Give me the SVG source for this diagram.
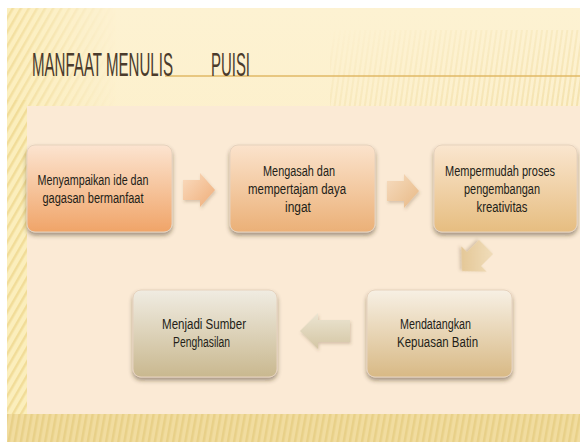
<svg xmlns="http://www.w3.org/2000/svg" width="580" height="442" viewBox="0 0 580 442">
<defs>
<style>
.t{font-family:"Liberation Sans",Arial,sans-serif;font-size:15px;fill:#231e18;text-anchor:middle}
.title{font-family:"Liberation Sans",Arial,sans-serif;font-size:33px;fill:#4a3b2c}
.box{stroke:#e6d2bd;stroke-width:1;filter:url(#sh)}
.arr{filter:url(#ash)}
</style>
<filter id="sh" x="-10%" y="-10%" width="120%" height="130%"><feDropShadow dx="0" dy="3" stdDeviation="2" flood-color="#3a2a1a" flood-opacity="0.45"/></filter>
<filter id="ash" x="-20%" y="-20%" width="140%" height="150%"><feDropShadow dx="1" dy="2" stdDeviation="1.5" flood-color="#6a5030" flood-opacity="0.25"/></filter>
<linearGradient id="bg" x1="0" y1="0" x2="0" y2="1"><stop offset="0" stop-color="#fdf2d2"/><stop offset="1" stop-color="#fbebbd"/></linearGradient>
<linearGradient id="g1" x1="0" y1="0" x2="0" y2="1"><stop offset="0" stop-color="#fce4d0"/><stop offset="1" stop-color="#f0a468"/></linearGradient>
<linearGradient id="g2" x1="0" y1="0" x2="0" y2="1"><stop offset="0" stop-color="#fbe3cc"/><stop offset="1" stop-color="#ebb077"/></linearGradient>
<linearGradient id="g3" x1="0" y1="0" x2="0" y2="1"><stop offset="0" stop-color="#fae6cf"/><stop offset="1" stop-color="#e6bd80"/></linearGradient>
<linearGradient id="g4" x1="0" y1="0" x2="0" y2="1"><stop offset="0" stop-color="#f7f0e4"/><stop offset="1" stop-color="#d8b985"/></linearGradient>
<linearGradient id="g5" x1="0" y1="0" x2="0" y2="1"><stop offset="0" stop-color="#f0ece2"/><stop offset="1" stop-color="#c9b88f"/></linearGradient>
<linearGradient id="a1" x1="0" y1="0" x2="1" y2="1"><stop offset="0" stop-color="#fadcc0"/><stop offset="1" stop-color="#efad78"/></linearGradient>
<linearGradient id="a2" x1="0" y1="0" x2="1" y2="1"><stop offset="0" stop-color="#f6dcc0"/><stop offset="1" stop-color="#e8b985"/></linearGradient>
<linearGradient id="a3" x1="0" y1="0" x2="1" y2="1"><stop offset="0" stop-color="#f2e0c0"/><stop offset="1" stop-color="#e0c08a"/></linearGradient>
<linearGradient id="a4" x1="0" y1="0" x2="0" y2="1"><stop offset="0" stop-color="#ece5d2"/><stop offset="1" stop-color="#d4c6a4"/></linearGradient>
<pattern id="diag" width="7" height="7" patternUnits="userSpaceOnUse" patternTransform="rotate(30)"><rect width="7" height="7" fill="#fbeebc"/><rect width="2.5" height="7" fill="#f1dc98"/></pattern>
<pattern id="vert" width="5" height="5" patternUnits="userSpaceOnUse" patternTransform="rotate(8)"><rect width="2" height="5" fill="#edd694"/></pattern>
<pattern id="bot" width="6" height="6" patternUnits="userSpaceOnUse" patternTransform="rotate(10)"><rect width="6" height="6" fill="#f1dc9f"/><rect width="2.5" height="6" fill="#e8d088"/></pattern>
<linearGradient id="fadeL" x1="0" y1="0" x2="1" y2="0"><stop offset="0" stop-color="#fff" stop-opacity="0.9"/><stop offset="1" stop-color="#fff" stop-opacity="0"/></linearGradient>
<linearGradient id="fadeR" x1="0" y1="0" x2="1" y2="1"><stop offset="0" stop-color="#fff" stop-opacity="0"/><stop offset="1" stop-color="#fff" stop-opacity="0.55"/></linearGradient>
<mask id="mL"><rect x="7" y="8" width="110" height="100" fill="url(#fadeL)"/></mask>
<mask id="mR"><rect x="330" y="30" width="250" height="78" fill="url(#fadeR)"/></mask>
</defs>

<rect width="580" height="442" fill="#ffffff"/>
<rect x="7" y="8" width="573" height="434" fill="url(#bg)"/>
<rect x="7" y="8" width="110" height="100" fill="url(#diag)" mask="url(#mL)"/>
<rect x="330" y="30" width="250" height="78" fill="url(#vert)" mask="url(#mR)"/>
<rect x="7" y="100" width="20" height="320" fill="url(#diag)"/>
<rect x="7" y="414" width="573" height="28" fill="url(#bot)"/>
<rect x="27" y="106" width="553" height="308" fill="#fbead5"/>

<g id="title">
<line x1="165" y1="76" x2="580" y2="76" stroke="#e0b866" stroke-width="1.5"/>
<text class="title" transform="scale(0.45,1)" y="76"><tspan x="71.1" textLength="313.3" lengthAdjust="spacingAndGlyphs">MANFAAT MENULIS</tspan><tspan x="468.9" textLength="86.7" lengthAdjust="spacingAndGlyphs">PUISI</tspan></text>
</g>

<g id="connectors">
<path class="arr" fill="url(#a1)" d="M183,180 H200 V173 L215,190 L200,207 V200 H183 Z"/>
<path class="arr" fill="url(#a2)" d="M387,181 H404 V174 L419,191 L404,208 V201 H387 Z"/>
<path class="arr" fill="url(#a3)" transform="translate(474,259) rotate(135)" d="M-17,-10 H0 V-18 L17,0 L0,18 V10 H-17 Z"/>
<path class="arr" fill="url(#a4)" d="M350,320 H318 V313 L300,331 L318,349 V342 H350 Z"/>
</g>

<g id="n1">
<rect class="box" x="27" y="145" width="145" height="87" rx="8" fill="url(#g1)"/>
<text class="t" transform="translate(93,185) scale(0.74,1)" textLength="150" lengthAdjust="spacingAndGlyphs">Menyampaikan ide dan</text>
<text class="t" transform="translate(93,203) scale(0.74,1)" textLength="136.5" lengthAdjust="spacingAndGlyphs">gagasan bermanfaat</text>
</g>
<g id="n2">
<rect class="box" x="230" y="145" width="145" height="87" rx="8" fill="url(#g2)"/>
<text class="t" transform="translate(299,176) scale(0.74,1)" textLength="97.3" lengthAdjust="spacingAndGlyphs">Mengasah dan</text>
<text class="t" transform="translate(297,194) scale(0.74,1)" textLength="132.4" lengthAdjust="spacingAndGlyphs">mempertajam daya</text>
<text class="t" transform="translate(298,212) scale(0.74,1)" textLength="35" lengthAdjust="spacingAndGlyphs">ingat</text>
</g>
<g id="n3">
<rect class="box" x="434" y="145" width="143" height="87" rx="8" fill="url(#g3)"/>
<text class="t" transform="translate(500,176) scale(0.74,1)" textLength="148.6" lengthAdjust="spacingAndGlyphs">Mempermudah proses</text>
<text class="t" transform="translate(502,194) scale(0.74,1)" textLength="102.7" lengthAdjust="spacingAndGlyphs">pengembangan</text>
<text class="t" transform="translate(502,212) scale(0.74,1)" textLength="68.9" lengthAdjust="spacingAndGlyphs">kreativitas</text>
</g>
<g id="n4">
<rect class="box" x="367" y="290" width="145" height="87" rx="8" fill="url(#g4)"/>
<text class="t" transform="translate(435.5,329) scale(0.74,1)" textLength="95.9" lengthAdjust="spacingAndGlyphs">Mendatangkan</text>
<text class="t" transform="translate(437.5,347) scale(0.74,1)" textLength="109.5" lengthAdjust="spacingAndGlyphs">Kepuasan Batin</text>
</g>
<g id="n5">
<rect class="box" x="133" y="290" width="144" height="87" rx="8" fill="url(#g5)"/>
<text class="t" transform="translate(204,329) scale(0.74,1)" textLength="113.5" lengthAdjust="spacingAndGlyphs">Menjadi Sumber</text>
<text class="t" transform="translate(201.5,347) scale(0.74,1)" textLength="77" lengthAdjust="spacingAndGlyphs">Penghasilan</text>
</g>
</svg>
